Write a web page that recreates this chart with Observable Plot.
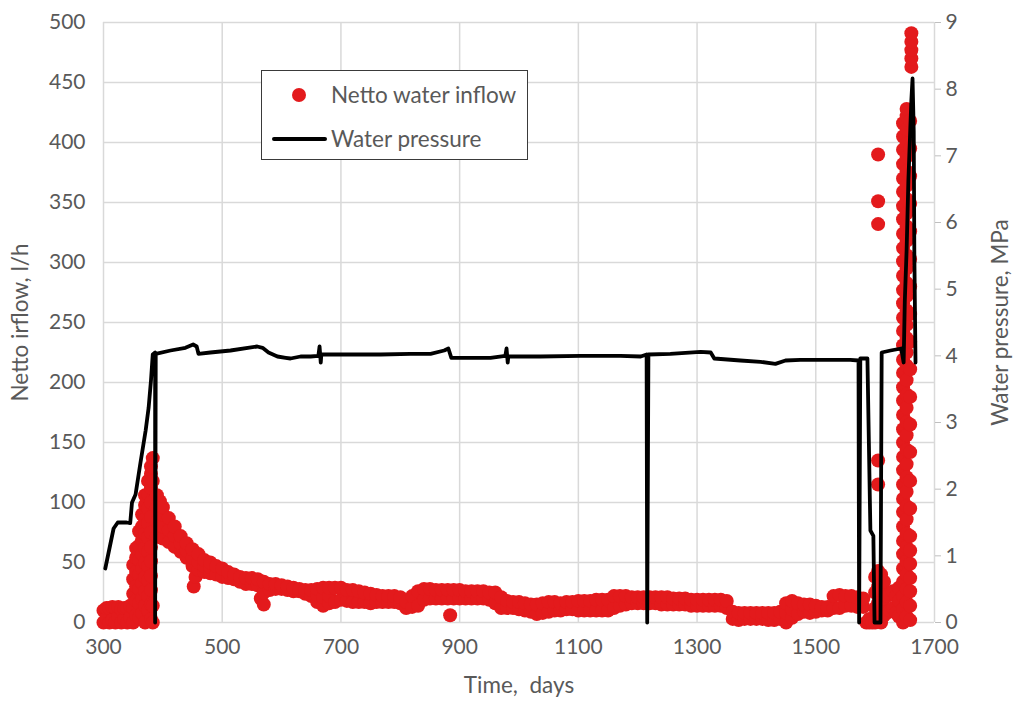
<!DOCTYPE html>
<html>
<head>
<meta charset="utf-8">
<script src="https://cdn.jsdelivr.net/npm/d3@7"></script>
<script src="https://cdn.jsdelivr.net/npm/@observablehq/plot@0.6"></script>
<style>
  body { margin: 0; background: #fff; }
  #chart { position: relative; width: 1013px; height: 706px; font-family: Lato, "Open Sans", sans-serif; }
  #chart svg { display: block; }
  .legend { position: absolute; left: 261px; top: 70px; width: 265px; height: 88px;
            border: 1.5px solid #3a3a3a; background: #fff; color: #595959; font-size: 22.5px; }
  .legend .dot { position: absolute; left: 30px; top: 17px; width: 14px; height: 14px; border-radius: 50%; background: #e31a1c; }
  .legend .line { position: absolute; left: 10px; top: 66px; width: 55px; height: 4px; background: #000; border-radius: 2px; }
  .legend .lbl { position: absolute; left: 69px; line-height: 26px; white-space: nowrap; }
</style>
</head>
<body>
<div id="chart"></div>
<script>
// Axis ticks
const dayTicks = [300, 500, 700, 900, 1100, 1300, 1500, 1700];
const inflowTicks = [0, 50, 100, 150, 200, 250, 300, 350, 400, 450, 500];
const pressureTicks = [0, 1, 2, 3, 4, 5, 6, 7, 8, 9];
const pressureMax = 9;
const inflowMax = 500;

// Netto water inflow readings (l/h): each row is [day, reading, reading, ...]
const inflowStart = [
  [300, 0, 10], [305, 4, 12], [310, 0, 12], [315, 2, 13], [320, 0, 12],
  [325, 5, 13], [330, 0, 11], [335, 3, 12], [340, 0, 12], [345, 4, 14]
];
const inflowRise = [
  [350, 0, 12, 24, 36, 48],
  [355, 6, 18, 30, 42, 54, 62],
  [360, 4, 16, 28, 40, 52, 64, 76],
  [365, 8, 20, 33, 45, 57, 69, 80, 90],
  [370, 0, 14, 26, 38, 50, 62, 74, 86, 98, 106],
  [375, 10, 22, 35, 47, 59, 71, 83, 95, 107, 118],
  [380, 3, 15, 27, 39, 51, 63, 75, 88, 100, 112, 124, 130],
  [383, 0, 14, 118, 137]
];
const inflowDecay = [
  [390, 72, 84, 96, 106], [395, 71, 82, 93, 101], [400, 70, 80, 90, 96],
  [410, 67, 77, 87], [420, 63, 72, 80], [430, 59, 66, 72], [440, 54, 60, 66],
  [450, 47, 54, 61], [452, 30], [455, 38], [460, 44, 50, 57], [470, 42, 47, 52],
  [480, 41, 46, 50], [490, 40, 47], [500, 38, 45], [510, 37, 42], [520, 36, 40],
  [530, 34, 38], [540, 32, 37], [550, 32, 37], [560, 31, 36], [565, 20],
  [570, 15, 25, 34], [580, 27, 32], [590, 28, 32], [600, 28, 31]
];
const inflowPlateau = [
  [610, 27, 30], [620, 26, 29], [630, 26, 28], [640, 24, 27], [650, 22, 27],
  [660, 17, 23, 28], [670, 14, 21, 29], [680, 16, 22, 29], [690, 17, 29], [700, 19, 29],
  [710, 18, 27], [720, 17, 27], [730, 17, 26], [740, 17, 25], [750, 16, 24],
  [760, 17, 23], [770, 17, 22], [780, 17, 22], [790, 17, 22], [800, 16, 21],
  [810, 12, 17], [820, 13, 22], [830, 14, 26], [840, 19, 28], [850, 20, 28],
  [860, 20, 27], [870, 20, 27], [880, 20, 27], [884, 6], [890, 20, 27],
  [900, 20, 27], [910, 20, 26], [920, 20, 26], [930, 20, 26], [940, 20, 26],
  [950, 19, 25], [960, 16, 25], [970, 12, 21], [980, 12, 18], [990, 12, 17],
  [1000, 11, 17], [1010, 10, 16], [1020, 9, 15], [1030, 7, 15], [1040, 8, 16],
  [1050, 9, 17], [1060, 10, 17], [1070, 10, 16], [1080, 11, 17], [1090, 11, 17],
  [1100, 10, 18], [1110, 10, 18], [1120, 10, 18], [1130, 10, 19], [1140, 10, 19],
  [1150, 10, 19], [1160, 12, 22], [1170, 14, 22], [1180, 15, 22], [1190, 16, 21],
  [1200, 16, 21], [1210, 16, 21], [1220, 16, 21], [1230, 16, 21], [1240, 15, 21],
  [1250, 15, 21], [1260, 15, 20], [1270, 15, 20], [1280, 15, 20], [1290, 14, 19],
  [1300, 14, 19], [1310, 14, 19], [1320, 14, 19], [1330, 14, 19], [1340, 14, 19]
];
const inflowLate = [
  [1350, 12, 18], [1360, 3, 9], [1370, 2, 8], [1380, 3, 8], [1390, 3, 8],
  [1400, 3, 8], [1410, 3, 8], [1420, 2, 8], [1430, 2, 8], [1440, 3, 9],
  [1450, 0, 8, 16], [1460, 4, 11, 18], [1470, 7, 16], [1480, 9, 15], [1490, 8, 15],
  [1500, 9, 14], [1510, 10, 13], [1520, 10, 13], [1530, 12, 22], [1540, 12, 23],
  [1550, 14, 22], [1560, 14, 22], [1570, 13, 21], [1580, 13, 20], [1585, 0],
  [1590, 0, 3], [1595, 0], [1600, 0, 12, 25, 38], [1605, 3, 16, 30, 43],
  [1610, 0, 14, 28, 40], [1615, 6, 20, 34], [1620, 8, 22], [1625, 10, 24],
  [1630, 12, 26], [1635, 8, 22], [1640, 5, 18, 29]
];
const inflowOutliers = [
  [1605, 115, 135, 332, 351, 390]
];
const inflowSpike = [
  [1647, 0, 11, 22, 34, 45, 57, 68, 80, 92, 103, 115, 127, 138, 150, 161, 173, 185, 196, 208,
         219, 231, 243, 254, 266, 277, 289, 301, 312, 324, 336, 347, 359, 370, 382, 394, 405, 416],
  [1653, 5, 17, 28, 40, 51, 63, 74, 86, 97, 109, 121, 132, 144, 156, 167, 179, 190, 202, 214,
         225, 237, 248, 260, 272, 283, 295, 306, 318, 330, 341, 353, 364, 376, 388, 399, 411, 422, 428],
  [1659, 2, 14, 26, 37, 49, 60, 72, 95, 118, 142, 165, 188, 211, 234, 257, 280, 303, 326, 349,
         372, 395, 418],
  [1661, 463, 470, 477, 484, 491]
];

// Water pressure (MPa): [day, pressure]
const pressure = [
  [303, 0.81], [317, 1.41], [324, 1.5], [339, 1.5], [345, 1.49], [348, 1.8], [354, 1.92],
  [362, 2.38], [371, 2.88], [376, 3.22], [380, 3.63], [383, 4.02], [387, 4.05], [387, 0],
  [388, 4.03], [413, 4.08], [438, 4.12], [451, 4.17], [457, 4.14], [460, 4.03], [480, 4.05],
  [514, 4.08], [559, 4.14], [568, 4.12], [578, 4.05], [593, 3.99], [607, 3.97], [615, 3.96],
  [632, 3.99], [649, 3.99], [662, 4.0], [664, 4.14], [666, 3.9], [667, 4.02], [716, 4.02],
  [767, 4.02], [817, 4.03], [851, 4.03], [874, 4.08], [881, 4.11], [886, 3.97], [918, 3.97],
  [952, 3.97], [977, 4.0], [979, 4.11], [981, 3.9], [982, 3.99], [1036, 3.99], [1104, 4.0],
  [1171, 4.0], [1205, 3.99], [1215, 4.02], [1216, 0], [1218, 4.02], [1255, 4.03], [1306, 4.06],
  [1323, 4.05], [1329, 3.96], [1373, 3.93], [1407, 3.91], [1432, 3.88], [1449, 3.93],
  [1474, 3.94], [1525, 3.94], [1558, 3.94], [1572, 3.93], [1573, 0], [1575, 3.96], [1587, 3.96],
  [1592, 1.38], [1597, 1.3], [1599, 0], [1609, 0], [1611, 4.05], [1626, 4.08], [1644, 4.11],
  [1648, 3.9], [1650, 4.83], [1653, 5.58], [1656, 6.63], [1661, 7.83], [1663, 8.16],
  [1665, 7.38], [1666, 5.58], [1668, 3.9]
];

// Flatten the [day, readings...] rows into one point per reading
const toPoints = rows => rows.flatMap(([day, ...vals]) => vals.map(value => ({day, value})));
const inflow = [inflowStart, inflowRise, inflowDecay, inflowPlateau, inflowLate, inflowOutliers, inflowSpike]
  .flatMap(toPoints);

// Pressure is drawn against the left scale, rescaled to the right axis range
const toInflowScale = p => p * inflowMax / pressureMax;

const red = "#e31a1c";
const grey = "#595959";
const gridColor = "#d9d9d9";
const titleSize = 22.5;

const chart = Plot.plot({
  width: 1013,
  height: 706,
  marginLeft: 103,
  marginRight: 79,
  marginTop: 22,
  marginBottom: 84,
  style: { fontFamily: "Lato, 'Open Sans', sans-serif", fontSize: "21px", color: grey, background: "#fff", overflow: "visible" },
  x: { domain: [300, 1700] },
  y: { domain: [0, inflowMax] },
  marks: [
    Plot.gridX(dayTicks, { stroke: gridColor, strokeOpacity: 1, strokeWidth: 1.5 }),
    Plot.gridY(inflowTicks, { stroke: gridColor, strokeOpacity: 1, strokeWidth: 1.5 }),
    Plot.axisX(dayTicks, { tickSize: 0, tickPadding: 17, label: null, fill: grey, tickFormat: d => String(d) }),
    Plot.axisY(inflowTicks, { anchor: "left", tickSize: 0, tickPadding: 18, label: null, fill: grey }),
    Plot.axisY(pressureTicks.map(toInflowScale), {
      anchor: "right", tickSize: 6, tickPadding: 5, label: null,
      stroke: "#bfbfbf", fill: grey,
      tickFormat: d => String(Math.round(d * pressureMax / inflowMax))
    }),
    Plot.dot(inflow, { x: "day", y: "value", r: 7, fill: red, stroke: null }),
    Plot.line(pressure, {
      x: d => d[0], y: d => toInflowScale(d[1]),
      stroke: "#000", strokeWidth: 3.8, strokeLinejoin: "round", strokeLinecap: "round"
    }),
    Plot.text(["Netto irflow, l/h"], { text: d => d, frameAnchor: "left", dx: -83, rotate: -90, textAnchor: "middle", fill: grey, fontSize: titleSize }),
    Plot.text(["Water pressure, MPa"], { text: d => d, frameAnchor: "right", dx: 66, rotate: -90, textAnchor: "middle", fill: grey, fontSize: titleSize }),
    Plot.text(["Time,  days"], { text: d => d, frameAnchor: "bottom", dy: 70, textAnchor: "middle", fill: grey, fontSize: titleSize })
  ]
});

const root = document.getElementById("chart");
root.appendChild(chart);

// Legend box drawn over the plot area
const legend = document.createElement("div");
legend.className = "legend";
legend.innerHTML =
  '<div class="dot"></div><div class="lbl" style="top:11px">Netto water inflow</div>' +
  '<div class="line"></div><div class="lbl" style="top:55px">Water pressure</div>';
root.appendChild(legend);
</script>
</body>
</html>
